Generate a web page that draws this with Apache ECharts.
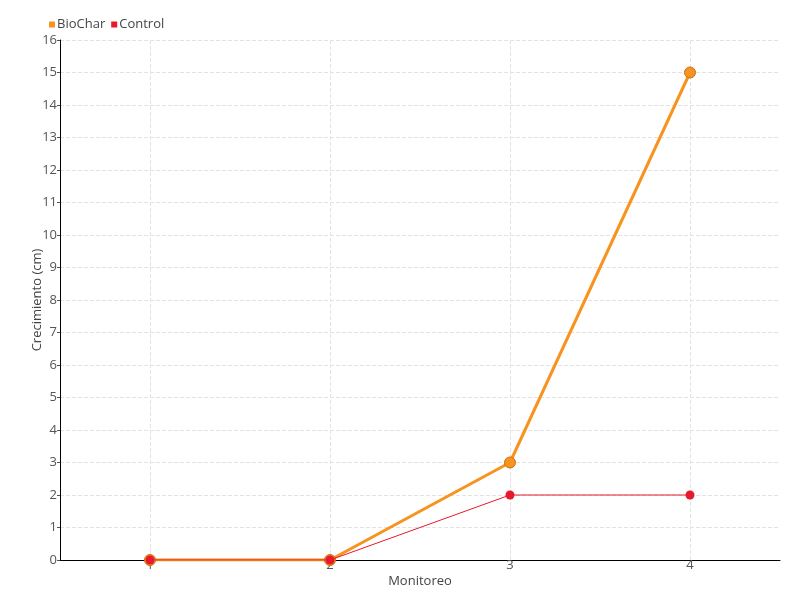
<!DOCTYPE html>
<html>
<head>
<meta charset="utf-8">
<script src="https://cdn.jsdelivr.net/npm/echarts@6/dist/echarts.min.js"></script>
<style>
html, body { margin: 0; padding: 0; background: #fff; }
#chart { width: 800px; height: 600px; }
</style>
</head>
<body>
<div id="chart"></div>
<script>
var categories = ['1', '2', '3', '4'];
var biocharValues = [0, 0, 3, 15];
var controlValues = [0, 0, 2, 2];

var font = '"Liberation Sans Narrow", "Open Sans", sans-serif';
var chart = echarts.init(document.getElementById('chart'));
var option = {
    textStyle: { fontFamily: font },
    legend: {
        left: 44,
        top: 13,
        itemWidth: 6,
        itemHeight: 6,
        itemGap: 6,
        icon: 'rect',
        itemStyle: { borderWidth: 0 },
        textStyle: { color: '#444', fontSize: 13, fontFamily: font, padding: [0, 0, 0, -3] },
        data: ['BioChar', 'Control']
    },
    grid: { left: 60, right: 20, top: 40, bottom: 40 },
    xAxis: {
        type: 'category',
        data: categories,
        name: 'Monitoreo',
        nameLocation: 'middle',
        nameGap: 15,
        nameMoveOverlap: false,
        nameTextStyle: { color: '#444', fontSize: 13, fontFamily: font },
        axisLine: { lineStyle: { color: '#000', width: 1 } },
        axisTick: { alignWithLabel: true, length: 4, lineStyle: { color: '#555' } },
        axisLabel: { color: '#555', fontSize: 13, margin: -1, fontFamily: font },
        splitLine: { show: false }
    },
    yAxis: {
        type: 'value',
        min: 0,
        max: 16,
        interval: 1,
        name: 'Crecimiento (cm)',
        nameLocation: 'middle',
        nameGap: 16,
        nameMoveOverlap: false,
        nameTextStyle: { color: '#444', fontSize: 13, fontFamily: font },
        axisLine: { show: true, lineStyle: { color: '#000', width: 1 } },
        axisTick: { show: true, length: 3, lineStyle: { color: '#555' } },
        axisLabel: { color: '#555', fontSize: 13, margin: 3, fontFamily: font },
        splitLine: { show: true, lineStyle: { color: '#e3e3e3', type: 'dashed' } }
    },
    series: [
        {
            // vertical grid lines at each category
            name: 'grid',
            type: 'line',
            data: [],
            z: 0,
            silent: true,
            markLine: {
                silent: true,
                z: 0,
                symbol: 'none',
                label: { show: false },
                lineStyle: { color: '#e3e3e3', type: 'dashed', width: 1 },
                data: categories.map(function (c) { return { xAxis: c }; })
            }
        },
        {
            name: 'BioChar',
            type: 'line',
            data: biocharValues,
            symbol: 'circle',
            symbolSize: 11,
            z: 3,
            lineStyle: { color: '#f7931e', width: 3 },
            itemStyle: { color: '#f7931e', borderColor: '#c9701a', borderWidth: 1 }
        },
        {
            name: 'Control',
            type: 'line',
            data: controlValues,
            symbol: 'circle',
            symbolSize: 9,
            z: 4,
            lineStyle: { color: '#e8192c', width: 1 },
            itemStyle: { color: '#e8192c', borderColor: '#e8192c', borderWidth: 0 }
        }
    ]
};
chart.setOption(option);
</script>
</body>
</html>
